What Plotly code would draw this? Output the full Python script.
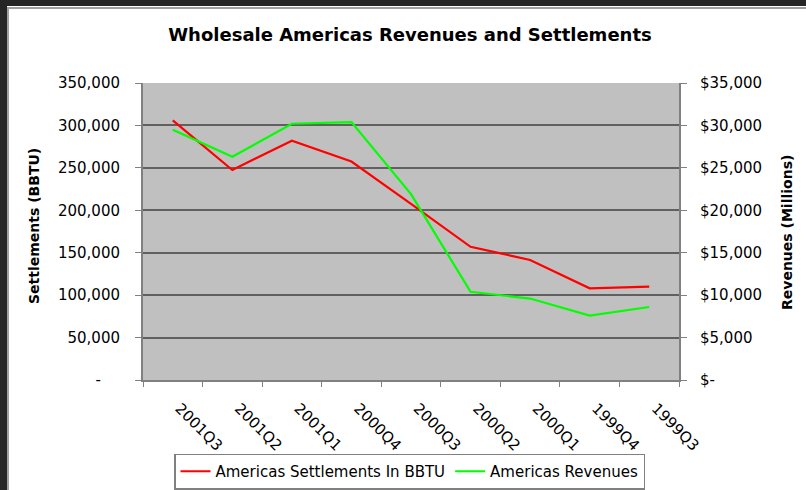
import plotly.graph_objects as go

quarters = ["2001Q3", "2001Q2", "2001Q1", "2000Q4", "2000Q3", "2000Q2", "2000Q1", "1999Q4", "1999Q3"]
settlements = [306000, 247500, 282000, 257500, 207500, 157000, 141500, 108000, 110000]
revenues = [29500, 26300, 30200, 30400, 21900, 10400, 9600, 7600, 8600]

left_ticks = [0, 50000, 100000, 150000, 200000, 250000, 300000, 350000]
left_text = ["-" + "\u00a0" * 4, "50,000", "100,000", "150,000", "200,000", "250,000", "300,000", "350,000"]
right_ticks = [0, 5000, 10000, 15000, 20000, 25000, 30000, 35000]
right_text = ["$-", "$5,000", "$10,000", "$15,000", "$20,000", "$25,000", "$30,000", "$35,000"]

W, H = 806, 490
L, R, T, B = 143, 679, 83, 380
FONT = "DejaVu Sans"

def px(x):
    return (x - L) / (R - L)

def py(y):
    return (B - y) / (B - T)

fig = go.Figure()
fig.add_trace(go.Scatter(x=quarters, y=settlements, name="Americas Settlements In BBTU",
                         mode="lines", line=dict(color="#ff0000", width=2.2), yaxis="y"))
fig.add_trace(go.Scatter(x=quarters, y=revenues, name="Americas Revenues",
                         mode="lines", line=dict(color="#00ff00", width=2.2), yaxis="y2"))

fig.update_layout(
    width=W, height=H,
    margin=dict(l=L, r=W - R, t=T, b=H - B, autoexpand=False),
    paper_bgcolor="white",
    plot_bgcolor="#c0c0c0",
    font=dict(family=FONT, size=15, color="#000000"),
    title=dict(text="<b>Wholesale Americas Revenues and Settlements</b>",
               x=410 / W, xanchor="center", y=1 - 35 / H, yanchor="middle",
               font=dict(family=FONT, size=18, color="#000000")),
    xaxis=dict(type="category", range=[-0.5, 8.5], tickangle=45,
               tickprefix="\u00a0\u00a0",
               showgrid=False, showline=True, linecolor="#808080", linewidth=2,
               ticks="outside", tickson="boundaries", ticklen=5, tickcolor="#808080",
               ticklabelstandoff=5, tickfont=dict(size=15), zeroline=False),
    yaxis=dict(range=[0, 350000], tickvals=left_ticks, ticktext=left_text,
               showgrid=True, gridcolor="#606060", gridwidth=1.5,
               showline=True, linecolor="#808080", linewidth=2,
               ticks="outside", ticklen=6, tickcolor="#808080",
               ticklabelstandoff=12, zeroline=False, tickfont=dict(size=15)),
    yaxis2=dict(range=[0, 35000], tickvals=right_ticks, ticktext=right_text,
                overlaying="y", side="right", showgrid=False,
                showline=True, linecolor="#808080", linewidth=2,
                ticks="outside", ticklen=6, tickcolor="#808080",
                ticklabelstandoff=10, zeroline=False, tickfont=dict(size=15)),
    legend=dict(orientation="h", x=px(409.5), xanchor="center", y=py(489.5), yanchor="bottom",
                bordercolor="#808080", borderwidth=1.5, bgcolor="white",
                font=dict(size=15), itemwidth=30, tracegroupgap=0),
    showlegend=True,
    annotations=[
        dict(text="<b>Settlements (BBTU)</b>", xref="paper", yref="paper",
             x=px(34), y=py(226), textangle=-90, showarrow=False,
             xanchor="center", yanchor="middle", font=dict(size=14)),
        dict(text="<b>Revenues (Millions)</b>", xref="paper", yref="paper",
             x=px(787), y=py(233), textangle=-90, showarrow=False,
             xanchor="center", yanchor="middle", font=dict(size=14)),
    ],
    shapes=[
        dict(type="rect", xref="paper", yref="paper", x0=px(0), x1=px(7), y0=py(H), y1=py(0),
             fillcolor="#262626", line=dict(width=0), layer="below"),
        dict(type="rect", xref="paper", yref="paper", x0=px(0), x1=px(W), y0=py(6), y1=py(0),
             fillcolor="#262626", line=dict(width=0), layer="below"),
        dict(type="line", xref="paper", yref="paper", x0=px(8), x1=px(8), y0=py(H), y1=py(7),
             line=dict(color="#a0a0a0", width=2), layer="below"),
        dict(type="line", xref="paper", yref="paper", x0=px(8), x1=px(W), y0=py(8), y1=py(8),
             line=dict(color="#a0a0a0", width=2), layer="below"),
    ],
)

fig.write_html("out.html", config={"displayModeBar": False},
               post_script="document.body.style.margin='0px';document.body.style.overflow='hidden';")
